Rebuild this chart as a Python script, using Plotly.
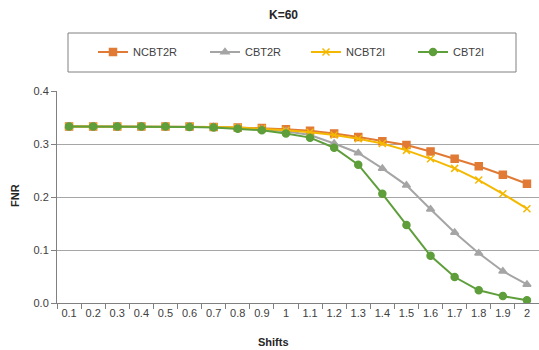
import plotly.graph_objects as go

shifts = ["0.1", "0.2", "0.3", "0.4", "0.5", "0.6", "0.7", "0.8", "0.9", "1",
          "1.1", "1.2", "1.3", "1.4", "1.5", "1.6", "1.7", "1.8", "1.9", "2"]

ncbt2r = [0.333, 0.333, 0.333, 0.333, 0.333, 0.333, 0.332, 0.331, 0.330, 0.328,
          0.325, 0.320, 0.313, 0.305, 0.298, 0.286, 0.272, 0.258, 0.242, 0.225]
cbt2r = [0.333, 0.333, 0.333, 0.333, 0.333, 0.333, 0.332, 0.330, 0.328, 0.324,
         0.317, 0.301, 0.283, 0.254, 0.222, 0.177, 0.133, 0.094, 0.060, 0.035]
ncbt2i = [0.333, 0.333, 0.333, 0.333, 0.333, 0.333, 0.332, 0.331, 0.329, 0.326,
          0.322, 0.317, 0.310, 0.301, 0.288, 0.272, 0.254, 0.232, 0.206, 0.178]
cbt2i = [0.333, 0.333, 0.333, 0.333, 0.333, 0.332, 0.331, 0.329, 0.326, 0.320,
         0.312, 0.293, 0.261, 0.206, 0.147, 0.089, 0.049, 0.024, 0.013, 0.005]

series = [
    ("NCBT2R", ncbt2r, "#E07A35", "square", 7),
    ("CBT2R", cbt2r, "#A5A5A5", "triangle-up", 7),
    ("NCBT2I", ncbt2i, "#F5B800", "x-thin", 7),
    ("CBT2I", cbt2i, "#5E9E3B", "circle", 7),
]

W, H = 539, 350
L, R, T, B = 57, 0, 91, 47
pw = W - L - R
ph = H - T - B

def px(x):
    return (x - L) / pw

def py(y):
    return (H - B - y) / ph

FAM = "Liberation Sans, Arial, sans-serif"
legend_starts = [93, 205, 306, 413]
legend_ids = ["legend", "legend2", "legend3", "legend4"]

fig = go.Figure()
for (name, vals, color, sym, size), lid in zip(series, legend_ids):
    fig.add_trace(go.Scatter(
        x=shifts, y=vals, name=name, mode="lines+markers",
        line=dict(color=color, width=2),
        marker=dict(symbol=sym, size=size, color=color,
                    line=dict(color=color, width=1.5)),
        legend=lid,
    ))

legend_layout = {}
for lid, xs in zip(legend_ids, legend_starts):
    legend_layout[lid] = dict(
        orientation="h", x=px(xs), y=py(52), xanchor="left", yanchor="middle",
        xref="paper", yref="paper",
        font=dict(size=11, color="#404040", family=FAM),
        bgcolor="rgba(0,0,0,0)", borderwidth=0,
        itemclick=False, itemdoubleclick=False,
    )

fig.update_layout(
    width=W, height=H,
    margin=dict(l=L, r=R, t=T, b=B, pad=0),
    paper_bgcolor="white", plot_bgcolor="white",
    font=dict(family=FAM, size=11, color="#404040"),
    showlegend=True,
    xaxis=dict(
        type="category", range=[-0.5, 19.5], tickson="boundaries",
        tickangle=0,
        showline=True, linecolor="#808080", linewidth=1,
        ticks="outside", ticklen=5, tickcolor="#808080",
        showgrid=False, zeroline=False,
        tickfont=dict(size=11, color="#404040"),
    ),
    yaxis=dict(
        range=[0, 0.4], dtick=0.1, tickformat=".1f",
        showline=True, linecolor="#808080", linewidth=1,
        ticks="outside", ticklen=5, tickcolor="#808080",
        showgrid=True, gridcolor="#A6A6A6", gridwidth=1,
        zeroline=False,
        tickfont=dict(size=11, color="#404040"),
    ),
    shapes=[dict(
        type="rect", xref="paper", yref="paper",
        x0=px(68), x1=px(516), y0=py(72), y1=py(33),
        line=dict(color="#808080", width=1), fillcolor="rgba(0,0,0,0)",
    )],
    annotations=[
        dict(text="<b>K=60</b>", xref="paper", yref="paper", x=px(283), y=py(15),
             xanchor="center", yanchor="middle", showarrow=False,
             font=dict(size=12, family=FAM, color="#262626")),
        dict(text="<b>FNR</b>", xref="paper", yref="paper", x=px(15), y=py(196),
             xanchor="center", yanchor="middle", showarrow=False, textangle=-90,
             font=dict(size=11, family=FAM, color="#262626")),
        dict(text="<b>Shifts</b>", xref="paper", yref="paper", x=px(273), y=py(342),
             xanchor="center", yanchor="middle", showarrow=False,
             font=dict(size=11, family=FAM, color="#262626")),
    ],
    **legend_layout,
)

fig.write_html("out.html")
